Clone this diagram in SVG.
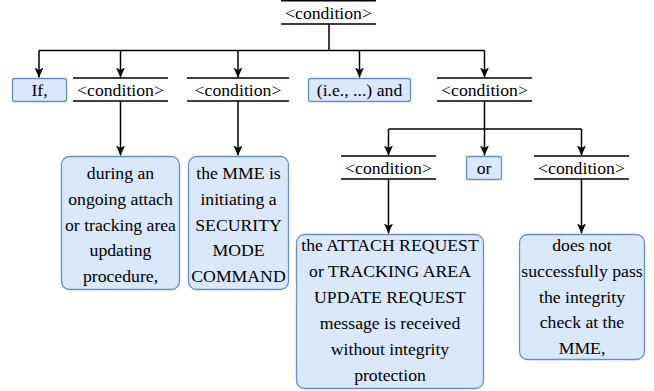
<svg xmlns="http://www.w3.org/2000/svg" width="654" height="391" viewBox="0 0 654 391">
<defs>
<marker id="arr" markerUnits="userSpaceOnUse" markerWidth="10" markerHeight="10" refX="10" refY="5" orient="auto">
<path d="M0,0.5 L10,5 L0,9.5 L2.5,5 Z" fill="#000"/>
</marker>
</defs>
<g id="connectors" stroke="#000" stroke-width="1.5" fill="none">
<path d="M329 24 V50.5 M39 50.5 H484.5"/>
<path marker-end="url(#arr)" d="M39 50.5 V77.5"/>
<path marker-end="url(#arr)" d="M120.5 50.5 V77.5"/>
<path marker-end="url(#arr)" d="M238 50.5 V77.5"/>
<path marker-end="url(#arr)" d="M359.5 50.5 V77.5"/>
<path marker-end="url(#arr)" d="M484.5 50.5 V77.5"/>
<path marker-end="url(#arr)" d="M120.5 101 V155.5"/>
<path marker-end="url(#arr)" d="M238 101 V155.5"/>
<path d="M484.5 101 V129 M388.5 129 H581.5"/>
<path marker-end="url(#arr)" d="M388.5 129 V155.5"/>
<path marker-end="url(#arr)" d="M484.5 129 V155.5"/>
<path marker-end="url(#arr)" d="M581.5 129 V155.5"/>
<path marker-end="url(#arr)" d="M388.5 179 V233.5"/>
<path marker-end="url(#arr)" d="M581.5 179 V233.5"/>
</g>
<g id="cond-root">
<path stroke="#000" stroke-width="1.4" fill="none" d="M281 0.7 H376 M281 24 H376"/>
<text font-family="Liberation Serif" font-size="17.7" text-anchor="middle" x="328.5" y="18.5">&lt;condition&gt;</text>
</g>
<g id="if">
<rect fill="#dae8fc" stroke="#6c8ebf" stroke-width="1.3" x="12.5" y="78.5" width="54" height="23" rx="2"/>
<text font-family="Liberation Serif" font-size="17.7" text-anchor="middle" x="39.5" y="95.5">If,</text>
</g>
<g id="cond-a">
<path stroke="#000" stroke-width="1.4" fill="none" d="M73 78 H168 M73 101 H168"/>
<text font-family="Liberation Serif" font-size="17.7" text-anchor="middle" x="120.5" y="95.5">&lt;condition&gt;</text>
</g>
<g id="cond-b">
<path stroke="#000" stroke-width="1.4" fill="none" d="M187 78 H289 M187 101 H289"/>
<text font-family="Liberation Serif" font-size="17.7" text-anchor="middle" x="238" y="95.5">&lt;condition&gt;</text>
</g>
<g id="ie-and">
<rect fill="#dae8fc" stroke="#6c8ebf" stroke-width="1.3" x="308.5" y="78.5" width="102" height="23" rx="2"/>
<text font-family="Liberation Serif" font-size="17.7" text-anchor="middle" x="359.5" y="95.5">(i.e., ...) and</text>
</g>
<g id="cond-c">
<path stroke="#000" stroke-width="1.4" fill="none" d="M437 78 H532 M437 101 H532"/>
<text font-family="Liberation Serif" font-size="17.7" text-anchor="middle" x="484.5" y="95.5">&lt;condition&gt;</text>
</g>
<g id="during">
<rect fill="#dae8fc" stroke="#6c8ebf" stroke-width="1.3" x="61.5" y="156.5" width="118" height="133" rx="8"/>
<text font-family="Liberation Serif" font-size="17.7" text-anchor="middle" x="120.5" y="179">during an</text>
<text font-family="Liberation Serif" font-size="17.7" text-anchor="middle" x="120.5" y="204.8">ongoing attach</text>
<text font-family="Liberation Serif" font-size="17.7" text-anchor="middle" x="120.5" y="230.6">or tracking area</text>
<text font-family="Liberation Serif" font-size="17.7" text-anchor="middle" x="120.5" y="256.4">updating</text>
<text font-family="Liberation Serif" font-size="17.7" text-anchor="middle" x="120.5" y="282.2">procedure,</text>
</g>
<g id="mme">
<rect fill="#dae8fc" stroke="#6c8ebf" stroke-width="1.3" x="188.5" y="156.5" width="100" height="133" rx="8"/>
<text font-family="Liberation Serif" font-size="17.7" text-anchor="middle" x="238.5" y="179">the MME is</text>
<text font-family="Liberation Serif" font-size="17.7" text-anchor="middle" x="238.5" y="204.8">initiating a</text>
<text font-family="Liberation Serif" font-size="17.7" text-anchor="middle" x="238.5" y="230.6">SECURITY</text>
<text font-family="Liberation Serif" font-size="17.7" text-anchor="middle" x="238.5" y="256.4">MODE</text>
<text font-family="Liberation Serif" font-size="17.7" text-anchor="middle" x="238.5" y="282.2">COMMAND</text>
</g>
<g id="cond-d">
<path stroke="#000" stroke-width="1.4" fill="none" d="M341 156 H436 M341 179 H436"/>
<text font-family="Liberation Serif" font-size="17.7" text-anchor="middle" x="388.5" y="173.5">&lt;condition&gt;</text>
</g>
<g id="or">
<rect fill="#dae8fc" stroke="#6c8ebf" stroke-width="1.3" x="466.5" y="156.5" width="35" height="23" rx="2"/>
<text font-family="Liberation Serif" font-size="17.7" text-anchor="middle" x="484" y="173.5">or</text>
</g>
<g id="cond-e">
<path stroke="#000" stroke-width="1.4" fill="none" d="M534 156 H629 M534 179 H629"/>
<text font-family="Liberation Serif" font-size="17.7" text-anchor="middle" x="581.5" y="173.5">&lt;condition&gt;</text>
</g>
<g id="attach">
<rect fill="#dae8fc" stroke="#6c8ebf" stroke-width="1.3" x="296.5" y="234.5" width="187" height="154" rx="8"/>
<text font-family="Liberation Serif" font-size="17.7" text-anchor="middle" x="390" y="251">the ATTACH REQUEST</text>
<text font-family="Liberation Serif" font-size="17.7" text-anchor="middle" x="390" y="277">or TRACKING AREA</text>
<text font-family="Liberation Serif" font-size="17.7" text-anchor="middle" x="390" y="303">UPDATE REQUEST</text>
<text font-family="Liberation Serif" font-size="17.7" text-anchor="middle" x="390" y="329">message is received</text>
<text font-family="Liberation Serif" font-size="17.7" text-anchor="middle" x="390" y="355">without integrity</text>
<text font-family="Liberation Serif" font-size="17.7" text-anchor="middle" x="390" y="381">protection</text>
</g>
<g id="integrity">
<rect fill="#dae8fc" stroke="#6c8ebf" stroke-width="1.3" x="519.5" y="234.5" width="125" height="125" rx="8"/>
<text font-family="Liberation Serif" font-size="17.7" text-anchor="middle" x="582" y="251">does not</text>
<text font-family="Liberation Serif" font-size="17.7" text-anchor="middle" x="582" y="276.8">successfully pass</text>
<text font-family="Liberation Serif" font-size="17.7" text-anchor="middle" x="582" y="302.6">the integrity</text>
<text font-family="Liberation Serif" font-size="17.7" text-anchor="middle" x="582" y="328.4">check at the</text>
<text font-family="Liberation Serif" font-size="17.7" text-anchor="middle" x="582" y="354.2">MME,</text>
</g>
</svg>
